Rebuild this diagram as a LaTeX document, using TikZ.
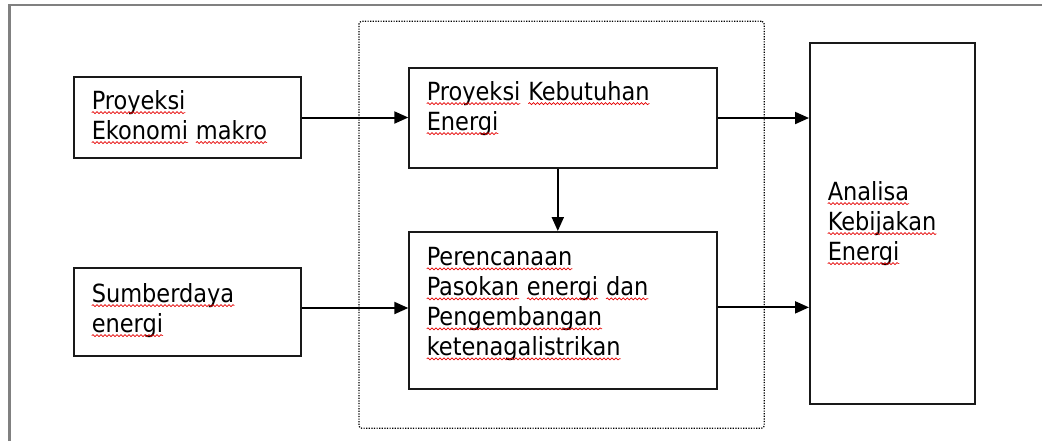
\documentclass[tikz,border=0pt]{standalone}
\usepackage{fontspec}
\setmainfont{DejaVu Sans Condensed}
\usetikzlibrary{arrows.meta,decorations.pathmorphing}
\newcommand\sq[1]{\tikz[baseline=0pt,x=1pt,y=1pt]{\node[anchor=base west,inner sep=0pt,outer sep=0pt,draw=none] (w) at (0,0) {#1};\draw[red!90!black,line width=0.35pt,decorate,decoration={snake,amplitude=0.5pt,segment length=2pt}] (0,-1.6) -- ([yshift=-1.6pt]w.base east);}}
\begin{document}
\begin{tikzpicture}[x=0.5pt,y=-0.5pt,
  box/.style={draw=black!90, line width=1pt, rectangle, inner sep=0pt, anchor=north west},
  txt/.style={inner sep=0pt, anchor=north west, align=left, font=\fontsize{12.5}{15}\selectfont, text=black},
  arr/.style={draw=black, line width=1pt, -{Triangle[length=7pt,width=6pt]}},
  grp/.style={draw=black, line width=0.6pt, dash pattern=on 0.6pt off 0.7pt, rounded corners=1.5pt, rectangle, inner sep=0pt, anchor=north west}]
\useasboundingbox (0,0) rectangle (1042,441);
\draw[black!50, line width=1.3pt] (9.5,441) -- (9.5,5) -- (1042,5);
% group
\node[grp, minimum width=202.7pt, minimum height=203.5pt] (grp) at (358.3,20.7) {};
% boxes
\node[box, minimum width=113.5pt, minimum height=40.5pt] (eko) at (73,76) {};
\node[box, minimum width=113.5pt, minimum height=44pt] (sum) at (73,267) {};
\node[box, minimum width=153.7pt, minimum height=50pt] (keb) at (408.3,67) {};
\node[box, minimum width=153.7pt, minimum height=78.35pt] (per) at (408.3,231) {};
\node[box, minimum width=82.5pt, minimum height=180.8pt] (ana) at (809,41.7) {};
% texts
\node[txt] (teko) at (91,90) {\sq{Proyeksi}\\\sq{Ekonomi} \sq{makro}};
\node[txt] (tsum) at (91,283) {\sq{Sumberdaya}\\\sq{energi}};
\node[txt] (tkeb) at (426,81) {\sq{Proyeksi} \sq{Kebutuhan}\\\sq{Energi}};
\node[txt] (tper) at (426,247) {\sq{Perencanaan}\\\sq{Pasokan} \sq{energi} \sq{dan}\\\sq{Pengembangan}\\\sq{ketenagalistrikan}};
\node[txt] (tana) at (827,181) {\sq{Analisa}\\\sq{Kebijakan}\\\sq{Energi}};
% connectors
\draw[arr] (eko.east) -- (eko.east -| keb.west);
\draw[arr] (keb.east) -- (keb.east -| ana.west);
\draw[arr] ([xshift=-2.6pt]keb.south) -- ([xshift=-2.6pt]per.north);
\coordinate (r2) at ([yshift=2pt]sum.east);
\draw[arr] (r2) -- (r2 -| per.west);
\coordinate (r3) at ([yshift=1.5pt]per.east);
\draw[arr] (r3) -- (r3 -| ana.west);
\end{tikzpicture}
\end{document}
